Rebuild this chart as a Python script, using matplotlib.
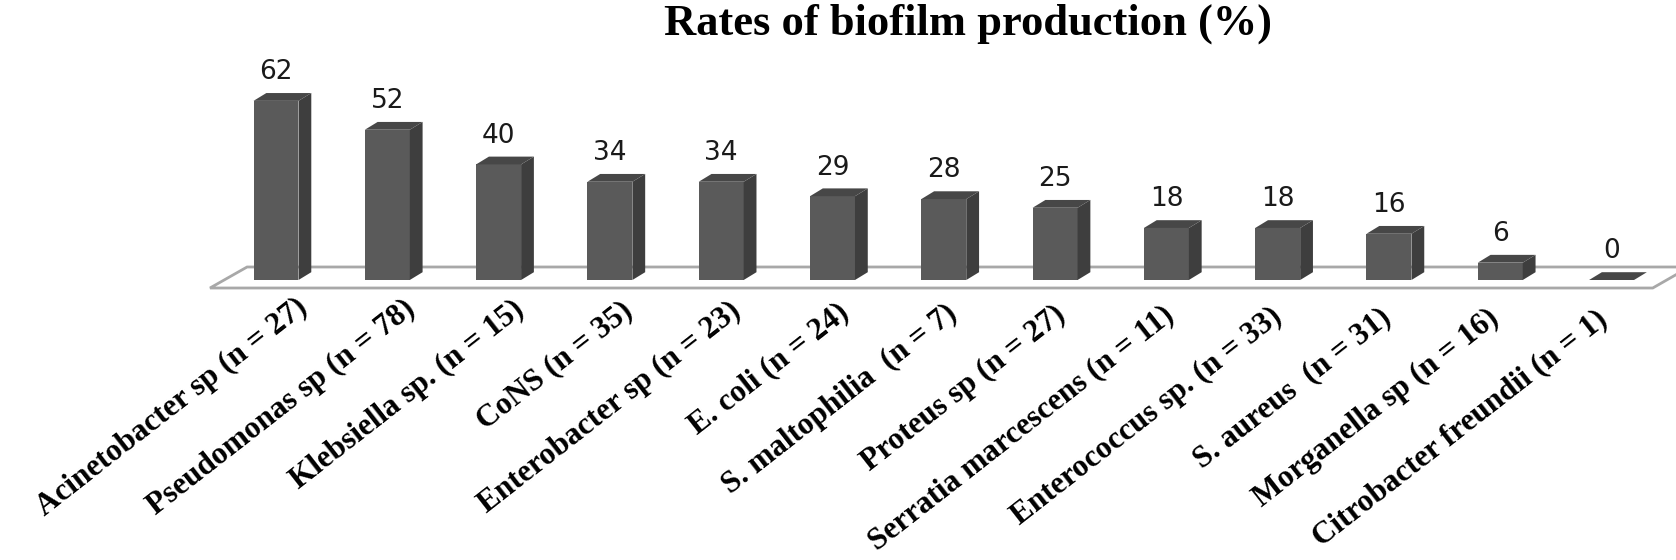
import matplotlib
matplotlib.use("Agg")
import matplotlib.pyplot as plt
from matplotlib.patches import Polygon

categories = [
    "Acinetobacter sp (n = 27)",
    "Pseudomonas sp (n = 78)",
    "Klebsiella sp. (n = 15)",
    "CoNS (n = 35)",
    "Enterobacter sp (n = 23)",
    "E. coli (n = 24)",
    "S. maltophilia  (n = 7)",
    "Proteus sp (n = 27)",
    "Serratia marcescens (n = 11)",
    "Enterococcus sp. (n = 33)",
    "S. aureus  (n = 31)",
    "Morganella sp (n = 16)",
    "Citrobacter freundii (n = 1)",
]
rates = [62, 52, 40, 34, 34, 29, 28, 25, 18, 18, 16, 6, 0]

TITLE = "Rates of biofilm production (%)"

# pseudo-3D geometry (data units)
HALF_W = 0.202
DX, DY = 0.115, 2.7
FRONT_C = "#5a5a5a"
SIDE_C = "#3e3e3e"
TOP_C = "#474747"

fig = plt.figure(figsize=(16.76, 5.6), dpi=100)
ax = fig.add_axes([0, 0, 1, 1])
ax.set_xlim(-2.48, 12.579)
ax.set_ylim(-96.9, 96.9)
ax.axis("off")

# floor plate
floor = Polygon([(-0.593, -2.77), (12.37, -2.77), (12.70, 4.5), (-0.26, 4.5)],
                closed=True, facecolor="white", edgecolor="#a8a8a8", lw=2.0, zorder=1)
ax.add_patch(floor)

for i, v in enumerate(rates):
    x0, x1 = i - HALF_W, i + HALF_W
    if v > 0:
        ax.add_patch(Polygon([(x0, 0), (x1, 0), (x1, v), (x0, v)],
                             facecolor=FRONT_C, edgecolor="none", zorder=3))
        ax.add_patch(Polygon([(x1, 0), (x1 + DX, DY), (x1 + DX, v + DY), (x1, v)],
                             facecolor=SIDE_C, edgecolor="none", zorder=3))
    ax.add_patch(Polygon([(x0, v), (x1, v), (x1 + DX, v + DY), (x0 + DX, v + DY)],
                         facecolor=TOP_C, edgecolor="none", zorder=4))
    ax.text(i, v + DY + 4.8, str(v), ha="center", va="baseline",
            fontsize=19, color="#1a1a1a", family="DejaVu Sans", zorder=5)

# rotated category labels under the floor
n = len(categories)
for i, lab in enumerate(categories):
    lx = 0.171 + i * 0.9733
    ly = -4.5 - 4.0 * i / (n - 1)
    ax.text(lx, ly, lab, rotation=38, rotation_mode="anchor", ha="right", va="top",
            fontsize=22.5, fontweight="bold", family="Liberation Serif", color="black")

fig.text(968 / 1676, 1 - 35 / 560, TITLE, ha="center", va="baseline",
         fontsize=32, fontweight="bold", family="Liberation Serif")

fig.savefig("out.png", dpi=100, facecolor="white")
